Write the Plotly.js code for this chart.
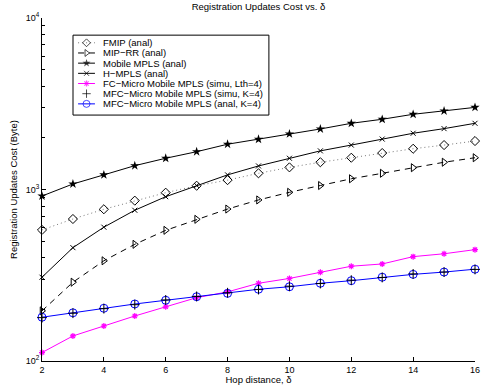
<!DOCTYPE html>
<html>
<head>
<meta charset="utf-8">
<script src="https://cdn.plot.ly/plotly-3.0.1.min.js"></script>
<style>html,body{margin:0;padding:0;background:#fff;}#chart{width:484px;height:385px;}</style>
</head>
<body>
<div id="chart"></div>
<script>
// ---- data ----
var hops = [2, 3, 4, 5, 6, 7, 8, 9, 10, 11, 12, 13, 14, 15, 16];
var fmipAnal = [581, 673, 767, 861, 958, 1052, 1134, 1243, 1346, 1442, 1532, 1632, 1728, 1816, 1917];
var miprrAnal = [196, 288, 384, 479, 578, 670, 769, 869, 963, 1055, 1155, 1243, 1340, 1442, 1532];
var mobileMplsAnal = [916, 1077, 1217, 1377, 1521, 1661, 1837, 1963, 2110, 2254, 2432, 2567, 2745, 2870, 3012];
var hMplsAnal = [308, 458, 603, 757, 908, 1055, 1217, 1372, 1521, 1680, 1816, 1968, 2128, 2264, 2432];
var fcMicroSimu = [112, 140, 160, 183, 207, 234, 253, 284, 303, 329, 357, 368, 406, 422, 446];
var mfcMicroSimu = [179, 190, 202, 213, 227, 238, 250, 261, 273, 283, 296, 307, 322, 330, 342];
var mfcMicroAnal = [180, 191, 203, 215, 226, 237, 248, 262, 271, 284, 294, 308, 320, 330, 343];
var seriesNames = [
  "FMIP (anal)",
  "MIP\u2212RR (anal)",
  "Mobile MPLS (anal)",
  "H\u2212MPLS (anal)",
  "FC\u2212Micro Mobile MPLS (simu, Lth=4)",
  "MFC\u2212Micro Mobile MPLS (simu, K=4)",
  "MFC\u2212Micro Mobile MPLS (anal, K=4)"
];
var seriesValues = [fmipAnal, miprrAnal, mobileMplsAnal, hMplsAnal, fcMicroSimu, mfcMicroSimu, mfcMicroAnal];
var yTickVals = [100, 1000, 10000];
var yTickText = ["10<sup>2</sup>", "10<sup>3</sup>", "10<sup>4</sup>"];
var yMinorVals = [200, 300, 400, 500, 600, 700, 800, 900, 2000, 3000, 4000, 5000, 6000, 7000, 8000, 9000];

// ---- styles ----
var styles = [
  {mode: "lines+markers", line: {color: "#555", width: 0.8, dash: "1px,3px"}, marker: {symbol: "diamond-open", size: 7, color: "#000", line: {width: 1}}},
  {mode: "lines+markers", line: {color: "#000", width: 1, dash: "6px,5px"}, marker: {symbol: "triangle-right-open", size: 7, color: "#000", line: {width: 1}}},
  {mode: "lines+markers", line: {color: "#000", width: 1}, marker: {symbol: "star", size: 7, color: "#000", line: {width: 0}}},
  {mode: "lines+markers", line: {color: "#000", width: 1}, marker: {symbol: "x-thin-open", size: 5, color: "#000", line: {width: 1, color: "#000"}}},
  {mode: "lines+markers", line: {color: "#ff00ff", width: 1}, marker: {symbol: "asterisk-open", size: 5, color: "#ff00ff", line: {width: 1.2, color: "#ff00ff"}}},
  {mode: "markers", line: {color: "#000", width: 1}, marker: {symbol: "cross-thin-open", size: 7, color: "#000", line: {width: 1, color: "#000"}}},
  {mode: "lines+markers", line: {color: "#0000ff", width: 1}, marker: {symbol: "circle-open", size: 8, color: "#0000ff", line: {width: 1}}}
];
var drawOrder = [0, 1, 2, 3, 4, 6, 5];

var traces = [];
drawOrder.forEach(function (i) {
  traces.push({
    type: "scatter", x: hops, y: seriesValues[i], name: seriesNames[i],
    mode: styles[i].mode, line: styles[i].line, marker: styles[i].marker,
    showlegend: false, xaxis: "x", yaxis: "y", cliponaxis: false
  });
});

// custom compact legend (drawn on an auxiliary axis)
var annotations = [];
seriesNames.forEach(function (name, i) {
  var st = styles[i];
  var m = JSON.parse(JSON.stringify(st.marker));
  m.size = [0, Math.max(st.marker.size - 1, 5), 0];
  traces.push({
    type: "scatter", x: [0.026, 0.069, 0.112], y: [i, i, i],
    mode: st.mode, line: st.line, marker: m,
    showlegend: false, xaxis: "x2", yaxis: "y2", hoverinfo: "skip", cliponaxis: false
  });
  annotations.push({
    xref: "x2", yref: "y2", x: 0.143, y: i, xanchor: "left", yanchor: "middle",
    text: name, showarrow: false, font: {family: "Liberation Sans, Arial, sans-serif", size: 9.5, color: "#000"}
  });
});

var font = {family: "Liberation Sans, Arial, sans-serif", size: 9, color: "#000"};
var layout = {
  width: 484, height: 385,
  margin: {l: 42, r: 9, t: 18, b: 24},
  paper_bgcolor: "#fff", plot_bgcolor: "#fff",
  font: font,
  showlegend: false,
  title: {text: "Registration Updates Cost vs. \u03b4", font: {family: font.family, size: 9.5, color: "#000"},
          x: 0.534, xanchor: "center", y: 0.982, yanchor: "middle"},
  xaxis: {
    range: [2, 16], tick0: 2, dtick: 2, ticks: "inside", ticklen: 4, tickcolor: "#000",
    showline: true, linecolor: "#000", linewidth: 1, showgrid: false, zeroline: false, mirror: false,
    tickfont: font,
    title: {text: "Hop distance, \u03b4", font: {family: font.family, size: 9.5, color: "#000"}, standoff: 2}
  },
  yaxis: {
    type: "log", range: [2, 4], tickmode: "array", tickvals: yTickVals, ticktext: yTickText,
    ticks: "inside", ticklen: 4, tickcolor: "#000",
    minor: {tickmode: "array", tickvals: yMinorVals, ticks: "inside", ticklen: 2.5, tickcolor: "#000", showgrid: false},
    showline: true, linecolor: "#000", linewidth: 1, showgrid: false, zeroline: false, mirror: false,
    tickfont: font,
    title: {text: "Registration Updates Cost (Byte)", font: {family: font.family, size: 9.5, color: "#000"}, standoff: 6}
  },
  xaxis2: {domain: [0.0716, 0.524], range: [0, 1], visible: false, anchor: "y2", fixedrange: true},
  yaxis2: {domain: [0.717, 0.950], range: [7.1, -0.75], visible: false, anchor: "x2", fixedrange: true},
  shapes: [{type: "rect", xref: "paper", yref: "paper", x0: 0.0716, x1: 0.524, y0: 0.717, y1: 0.950,
            line: {color: "#000", width: 1}, fillcolor: "rgba(0,0,0,0)", layer: "above"}],
  annotations: annotations
};

Plotly.newPlot("chart", traces, layout, {staticPlot: true, displayModeBar: false});
</script>
</body>
</html>
